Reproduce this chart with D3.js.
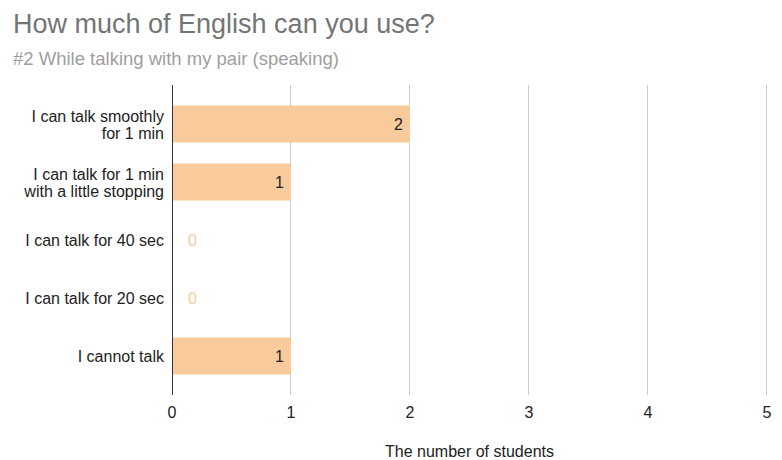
<!DOCTYPE html>
<html>
<head>
<meta charset="utf-8">
<script src="https://cdn.jsdelivr.net/npm/d3@7"></script>
<style>
  body { margin: 0; background: #fff; }
  text { font-family: "Liberation Sans", Arial, sans-serif; }
</style>
</head>
<body>
<div id="chart"></div>
<script>
// chart data
var categories = [
  ["I can talk smoothly", "for 1 min"],
  ["I can talk for 1 min", "with a little stopping"],
  ["I can talk for 40 sec"],
  ["I can talk for 20 sec"],
  ["I cannot talk"]
];
var counts = [2, 1, 0, 0, 1];
var xTicks = [0, 1, 2, 3, 4, 5];

var width = 782, height = 460;
var barColor = "#f9cb9c";

var svg = d3.select("#chart").append("svg")
    .attr("width", width)
    .attr("height", height);

svg.append("text")
    .attr("x", 13).attr("y", 33)
    .attr("font-size", 27)
    .attr("fill", "#757575")
    .text("How much of English can you use?");

svg.append("text")
    .attr("x", 13).attr("y", 65)
    .attr("font-size", 18.5)
    .attr("fill", "#9e9e9e")
    .text("#2 While talking with my pair (speaking)");

var x = d3.scaleLinear().domain([0, 5]).range([172, 767]);
var y = d3.scaleBand()
    .domain(d3.range(categories.length))
    .range([95, 385])
    .paddingInner(0.36)
    .paddingOuter(0.18);

var plotTop = 85, plotBottom = 395;

// gridlines (half-pixel offset keeps them crisp)
svg.append("g").selectAll("line")
    .data(xTicks.filter(function(d) { return d > 0; }))
    .enter().append("line")
    .attr("x1", function(d) { return Math.round(x(d)) - 0.5; })
    .attr("x2", function(d) { return Math.round(x(d)) - 0.5; })
    .attr("y1", plotTop).attr("y2", plotBottom)
    .attr("stroke", "#cccccc")
    .attr("stroke-width", 1);

// bars
svg.append("g").selectAll("rect")
    .data(counts)
    .enter().append("rect")
    .attr("x", x(0))
    .attr("y", function(d, i) { return y(i); })
    .attr("width", function(d) { return x(d) - x(0); })
    .attr("height", y.bandwidth())
    .attr("fill", barColor);

// baseline
svg.append("line")
    .attr("x1", x(0) + 0.5).attr("x2", x(0) + 0.5)
    .attr("y1", plotTop).attr("y2", plotBottom)
    .attr("stroke", "#333333")
    .attr("stroke-width", 1);

// value labels
svg.append("g").selectAll("text")
    .data(counts)
    .enter().append("text")
    .attr("x", function(d) { return d > 0 ? x(d) - 7 : x(0) + 16; })
    .attr("y", function(d, i) { return y(i) + y.bandwidth() / 2 + 6; })
    .attr("text-anchor", function(d) { return d > 0 ? "end" : "start"; })
    .attr("font-size", 16)
    .attr("fill", function(d) { return d > 0 ? "#222222" : barColor; })
    .text(function(d) { return d; });

// category labels
var labels = svg.append("g").selectAll("text")
    .data(categories)
    .enter().append("text")
    .attr("text-anchor", "end")
    .attr("font-size", 16)
    .attr("fill", "#222222")
    .attr("y", function(d, i) { return y(i) + y.bandwidth() / 2 + 6 - (d.length - 1) * 8.5; });

labels.selectAll("tspan")
    .data(function(d) { return d; })
    .enter().append("tspan")
    .attr("x", 164)
    .attr("dy", function(d, i) { return i === 0 ? 0 : 17; })
    .text(function(d) { return d; });

// x tick labels
svg.append("g").selectAll("text")
    .data(xTicks)
    .enter().append("text")
    .attr("x", function(d) { return x(d); })
    .attr("y", 418)
    .attr("text-anchor", "middle")
    .attr("font-size", 16)
    .attr("fill", "#222222")
    .text(function(d) { return d; });

svg.append("text")
    .attr("x", (x(0) + x(5)) / 2)
    .attr("y", 457)
    .attr("text-anchor", "middle")
    .attr("font-size", 16)
    .attr("fill", "#222222")
    .text("The number of students");
</script>
</body>
</html>
